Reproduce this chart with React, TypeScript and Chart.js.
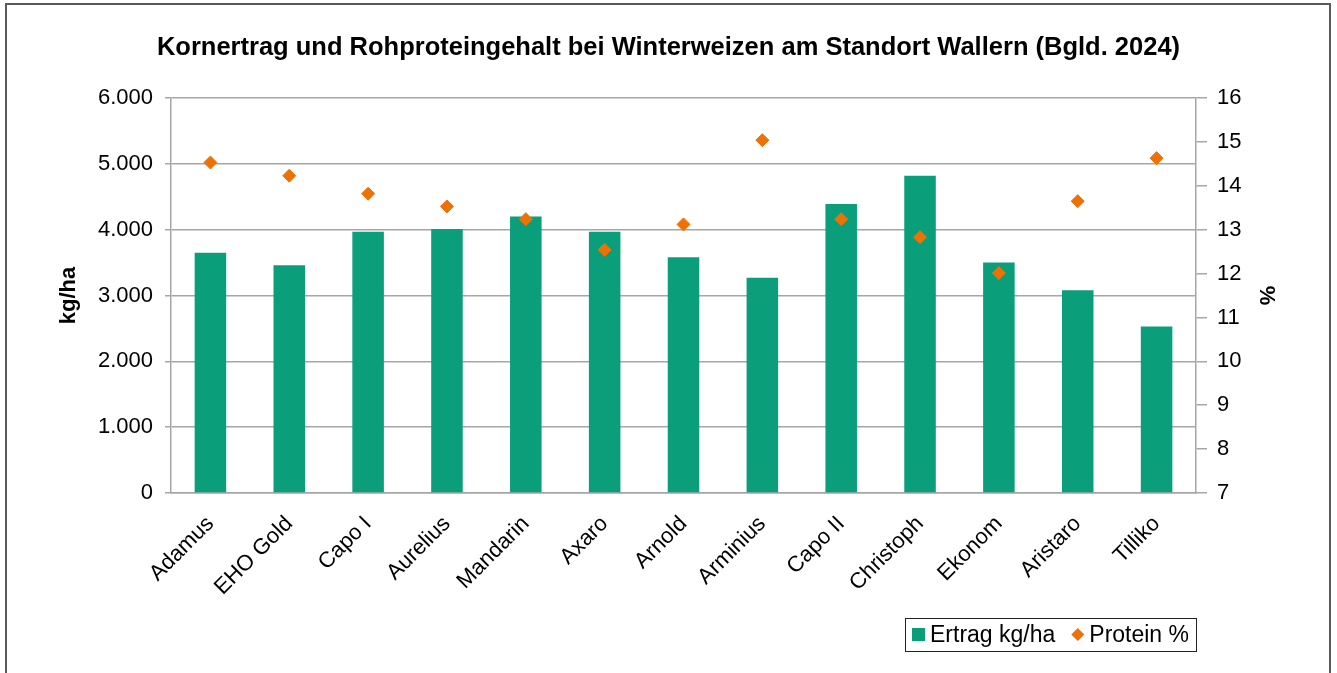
import React, { useEffect, useRef } from "react";
import { Chart, registerables } from "chart.js";

Chart.register(...registerables);

const categories = [
  "Adamus", "EHO Gold", "Capo I", "Aurelius", "Mandarin", "Axaro", "Arnold",
  "Arminius", "Capo II", "Christoph", "Ekonom", "Aristaro", "Tilliko",
];
const ertrag = [3650, 3460, 3970, 4010, 4200, 3970, 3580, 3270, 4390, 4820, 3500, 3080, 2530];
const protein = [14.53, 14.23, 13.82, 13.53, 13.24, 12.54, 13.12, 15.04, 13.24, 12.83, 12.01, 13.65, 14.63];

const titleText = "Kornertrag und Rohproteingehalt bei Winterweizen am Standort Wallern (Bgld. 2024)";
const leftAxisTitle = "kg/ha";
const rightAxisTitle = "%";
const ertragLabel = "Ertrag kg/ha";
const proteinLabel = "Protein %";

const GREEN = "#0B9E7B";
const ORANGE = "#EE7203";
const GRID = "#a6a6a6";
const FONT = "'Liberation Sans', Arial, Helvetica, sans-serif";

function fmtThousands(v: number): string {
  const n = Math.round(v);
  if (n >= 1000) {
    return `${Math.floor(n / 1000)}.${String(n % 1000).padStart(3, "0")}`;
  }
  return String(n);
}

const legendPlugin = {
  id: "boxLegend",
  afterDraw(chart: any) {
    const { ctx, chartArea } = chart;
    const fontSize = 23;
    ctx.save();
    ctx.font = `${fontSize}px ${FONT}`;
    const pad = 7;
    const sym = 13;
    const gapSym = 5;
    const gapItem = 16;
    const w1 = ctx.measureText(ertragLabel).width;
    const w2 = ctx.measureText(proteinLabel).width;
    const total = pad + sym + gapSym + w1 + gapItem + sym + gapSym + w2 + pad;
    const h = 33;
    const right = chartArea.right;
    const left = right - total;
    const top = chartArea.bottom + 125;
    const cy = top + h / 2;
    ctx.fillStyle = "#ffffff";
    ctx.fillRect(left, top, total, h);
    ctx.strokeStyle = "#222222";
    ctx.lineWidth = 1;
    ctx.strokeRect(Math.round(left) + 0.5, Math.round(top) + 0.5, Math.round(total), h);
    let x = left + pad;
    ctx.fillStyle = GREEN;
    ctx.fillRect(x, cy - sym / 2, sym, sym);
    x += sym + gapSym;
    ctx.fillStyle = "#000000";
    ctx.textBaseline = "middle";
    ctx.textAlign = "left";
    ctx.fillText(ertragLabel, x, cy + 1);
    x += w1 + gapItem;
    ctx.fillStyle = ORANGE;
    ctx.beginPath();
    ctx.moveTo(x + sym / 2, cy - sym / 2);
    ctx.lineTo(x + sym, cy);
    ctx.lineTo(x + sym / 2, cy + sym / 2);
    ctx.lineTo(x, cy);
    ctx.closePath();
    ctx.fill();
    x += sym + gapSym;
    ctx.fillStyle = "#000000";
    ctx.fillText(proteinLabel, x, cy + 1);
    ctx.restore();
  },
};

export default function App() {
  const canvasRef = useRef<HTMLCanvasElement | null>(null);

  useEffect(() => {
    const canvas = canvasRef.current;
    if (!canvas) return;
    const chart = new Chart(canvas, {
      type: "bar",
      data: {
        labels: categories,
        datasets: [
          {
            type: "scatter" as any,
            label: proteinLabel,
            data: protein as any,
            yAxisID: "y1",
            backgroundColor: ORANGE,
            borderColor: ORANGE,
            borderWidth: 1,
            pointStyle: "rectRot",
            pointRadius: 6.5,
            showLine: false,
            order: 0,
          } as any,
          {
            type: "bar",
            label: ertragLabel,
            data: ertrag,
            yAxisID: "y",
            backgroundColor: GREEN,
            borderWidth: 0,
            categoryPercentage: 1,
            barPercentage: 0.4,
            order: 1,
          },
        ],
      },
      options: {
        responsive: false,
        animation: false,
        devicePixelRatio: 1,
        layout: { padding: 0 },
        plugins: {
          legend: { display: false },
          tooltip: { enabled: false },
          title: {
            display: true,
            text: titleText,
            color: "#000000",
            font: { family: FONT, size: 25.5, weight: "bold" },
            padding: { top: 33, bottom: 34.4 },
          },
        },
        scales: {
          x: {
            type: "category",
            offset: true,
            grid: { display: false },
            border: { display: true, color: GRID, width: 1.5 },
            ticks: {
              color: "#000000",
              font: { family: FONT, size: 22 },
              maxRotation: 45,
              minRotation: 45,
              autoSkip: false,
              padding: 10,
            },
            afterFit: (s: any) => {
              s.height = 180;
            },
          },
          y: {
            type: "linear",
            position: "left",
            min: 0,
            max: 6000,
            grid: { color: GRID, lineWidth: 1.5, tickLength: 6, drawTicks: true },
            border: { display: true, color: GRID, width: 1.5 },
            ticks: {
              stepSize: 1000,
              color: "#000000",
              font: { family: FONT, size: 22 },
              padding: 12,
              callback: (v: any) => fmtThousands(Number(v)),
            },
            title: {
              display: true,
              text: leftAxisTitle,
              color: "#000000",
              font: { family: FONT, size: 22, weight: "bold" },
              padding: { top: 56, bottom: 0 },
            },
            afterFit: (s: any) => {
              s.width = 171;
            },
          },
          y1: {
            type: "linear",
            position: "right",
            min: 7,
            max: 16,
            grid: { drawOnChartArea: false, color: GRID, lineWidth: 1.5, tickLength: 11 },
            border: { display: true, color: GRID, width: 1.5 },
            ticks: {
              stepSize: 1,
              color: "#000000",
              font: { family: FONT, size: 22 },
              padding: 10,
            },
            title: {
              display: true,
              text: rightAxisTitle,
              color: "#000000",
              font: { family: FONT, size: 22, weight: "bold" },
              padding: { top: 58, bottom: 0 },
            },
            afterFit: (s: any) => {
              s.width = 141;
            },
          },
        },
      } as any,
      plugins: [legendPlugin],
    });
    return () => chart.destroy();
  }, []);

  return (
    <div
      style={{
        position: "fixed",
        left: 0,
        top: 0,
        width: 1337,
        height: 673,
        overflow: "hidden",
        background: "#ffffff",
      }}
    >
      <div
        style={{
          position: "absolute",
          left: 5,
          top: 3,
          width: 1326,
          height: 740,
          border: "2px solid #595959",
          boxSizing: "border-box",
        }}
      />
      <canvas
        ref={canvasRef}
        width={1337}
        height={673}
        style={{ position: "absolute", left: 0, top: 0, width: 1337, height: 673 }}
      />
    </div>
  );
}
